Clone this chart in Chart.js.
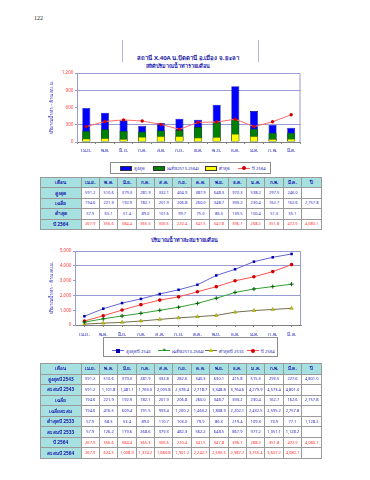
<!DOCTYPE html>
<html><head><meta charset="utf-8">
<script src="https://cdn.jsdelivr.net/npm/chart.js@4.4.1/dist/chart.umd.min.js"></script>
<style>
html,body{margin:0;padding:0;}
body{width:370px;height:480px;background:#fff;position:relative;overflow:hidden;font-family:"Noto Sans","DejaVu Sans",sans-serif;}
.abs{position:absolute;}
.pg{left:34px;top:15px;font-family:"Liberation Serif",serif;font-size:6px;color:#222;}
.title{left:0;width:376px;top:53px;text-align:center;font-size:6px;font-weight:bold;color:#1a1aa0;white-space:nowrap;}
.vline{width:1px;background:#b4b4d8;top:40px;height:22px;}
.sub{text-align:center;font-size:5.4px;font-weight:bold;color:#1a1ab0;white-space:nowrap;}
table{border-collapse:collapse;table-layout:fixed;position:absolute;left:40px;border:1px solid #555;}
td{border:0.6px solid #9a9a9a;padding:0;text-align:center;font-size:4px;color:#2b2bc8;white-space:nowrap;overflow:hidden;line-height:1;}
td.h{background:#a6e0e0;color:#1a1ab0;font-weight:bold;font-size:4.6px;}
td.lab{background:#a6e0e0;color:#1a1ab0;font-weight:bold;font-size:4.8px;}
tr.red td.num{color:#ff3030;}
.legend{border:1px solid #8c8c8c;background:#fff;}
.li{position:absolute;font-size:4.2px;color:#1a1ab0;white-space:nowrap;}
.sw{position:absolute;height:5px;width:12px;border:0.5px solid #333;box-sizing:border-box;}
.ln{position:absolute;height:1px;width:12px;}
.mk{position:absolute;}
canvas{position:absolute;}
</style></head><body>
<div class="abs pg">122</div>
<div class="abs vline" style="left:122px"></div>
<div class="abs vline" style="left:258px"></div>
<div class="abs title">สถานี X.40A น.ปัตตานี อ.เมือง จ.ยะลา</div>
<div class="abs sub" style="left:0;width:356px;top:62px;">สถิติปริมาณน้ำท่ารายเดือน</div>
<canvas id="c1" width="280" height="92" style="left:30px;top:66px;width:280px;height:92px"></canvas>
<div class="abs legend" style="left:110px;top:162px;width:159px;height:10px;">
  <div class="sw" style="left:9px;top:2.5px;background:#0000ff"></div><div class="li" style="left:23px;top:2px">สูงสุด</div>
  <div class="sw" style="left:42px;top:2.5px;background:#008000"></div><div class="li" style="left:56px;top:2px">เฉลี่ย(2513-2564)</div>
  <div class="sw" style="left:94px;top:2.5px;background:#ffff00"></div><div class="li" style="left:108px;top:2px">ต่ำสุด</div>
  <div class="ln" style="left:127px;top:4.5px;background:#ff6060"></div><div class="mk" style="left:131px;top:3px;width:4px;height:4px;background:#d00000;border-radius:50%"></div><div class="li" style="left:141px;top:2px">ปี 2564</div>
</div>
<table id="t1" style="top:177px;"></table>
<div class="abs sub" style="left:0;width:368px;top:236px;">ปริมาณน้ำท่าสะสมรายเดือน</div>
<canvas id="c2" width="280" height="96" style="left:30px;top:244px;width:280px;height:96px"></canvas>
<div class="abs legend" style="left:103px;top:337px;width:173px;height:18px;">
  <div class="ln" style="left:8px;top:12px;background:#6464d8"></div><div class="mk" style="left:12px;top:10.5px;width:4px;height:4px;background:#0000b0"></div><div class="li" style="left:22px;top:10px">สูงสุดปี 2543</div>
  <div class="ln" style="left:54px;top:12px;background:#33a033"></div><div class="mk" style="left:58.5px;top:10px;width:3px;height:5px;font-size:6px;line-height:5px;color:#006000;font-weight:bold">+</div><div class="li" style="left:68px;top:10px">เฉลี่ย(2513-2564)</div>
  <div class="ln" style="left:101px;top:12px;background:#707050"></div><div class="mk" style="left:105px;top:10px;width:0;height:0;border-left:2.5px solid transparent;border-right:2.5px solid transparent;border-bottom:4px solid #c8c800"></div><div class="li" style="left:115px;top:10px">ต่ำสุดปี 2533</div>
  <div class="ln" style="left:143px;top:12px;background:#ff5050"></div><div class="mk" style="left:147px;top:10.5px;width:4px;height:4px;background:#d00000;border-radius:50%"></div><div class="li" style="left:157px;top:10px">ปี 2564</div>
</div>
<table id="t2" style="top:363px;"></table>
<script>
// ---- data ----
const months = ['เม.ย.','พ.ค.','มิ.ย.','ก.ค.','ส.ค.','ก.ย.','ต.ค.','พ.ย.','ธ.ค.','ม.ค.','ก.พ.','มี.ค.'];
const maxMonthly  = [591.2, 510.6, 379.3, 281.9, 332.1, 404.9, 387.9, 648.3, 970.3, 538.2, 297.5, 246.0];
const meanMonthly = [194.6, 221.9, 192.9, 182.1, 201.9, 206.8, 260.0, 348.7, 393.2, 230.4, 162.7, 162.6];
const minMonthly  = [57.9, 65.1, 51.4, 89.0, 101.6, 99.7, 75.0, 86.3, 139.5, 100.4, 51.3, 55.1];
const year2564    = [267.9, 356.6, 384.4, 365.3, 306.6, 220.4, 341.5, 347.8, 396.7, 268.2, 351.8, 472.9];
const max2543     = [591.2, 510.6, 379.3, 281.9, 332.8, 282.6, 340.3, 630.1, 415.8, 515.3, 293.5, 227.6];
const max2543Cum  = [591.2, 1101.8, 1481.1, 1763.0, 2095.8, 2378.4, 2718.7, 3348.8, 3764.6, 4279.9, 4573.4, 4801.0];
const meanCum     = [194.6, 416.5, 609.4, 791.5, 993.4, 1200.2, 1460.2, 1808.9, 2202.1, 2432.5, 2595.2, 2757.8];
const min2533     = [57.9, 68.3, 53.4, 89.0, 110.7, 103.0, 79.9, 86.3, 219.4, 109.3, 73.9, 77.1];
const min2533Cum  = [57.9, 126.2, 179.6, 268.6, 379.3, 482.3, 562.2, 648.5, 867.9, 977.2, 1051.1, 1128.2];
const year2564Cum = [267.9, 624.5, 1008.9, 1374.2, 1680.8, 1901.2, 2242.7, 2590.5, 2987.2, 3255.4, 3607.2, 4080.1];
const totalMean = 2757.8, total2564 = 4080.1, total2543 = 4801.0, total2533 = 1128.2;
const y1Ticks = [0, 300, 600, 900, 1200];
const y2Ticks = [0, 1000, 2000, 3000, 4000, 5000];

const FAM = '"Noto Sans","DejaVu Sans",sans-serif';
const fmt = v => (v===''||v===null) ? '' : Number(v).toLocaleString('en-US',{minimumFractionDigits:1,maximumFractionDigits:1});

// ---- tables ----
function buildTable(id, rows, rowH){
  const t = document.getElementById(id);
  let html = '<colgroup><col style="width:40.5px">' + months.map(()=> '<col style="width:18.4px">').join('') + '<col style="width:20px"></colgroup>';
  html += '<tr style="height:'+rowH+'px"><td class="h">เดือน</td>' + months.map(m=>'<td class="h">'+m+'</td>').join('') + '<td class="h">ปี</td></tr>';
  rows.forEach(r=>{
    html += '<tr class="'+(r[3]||'')+'" style="height:'+rowH+'px"><td class="lab">'+r[0]+'</td>' + r[1].map(v=>'<td class="num">'+fmt(v)+'</td>').join('') + '<td class="num">'+fmt(r[2])+'</td></tr>';
  });
  t.innerHTML = html;
}
buildTable('t1', [
  ['สูงสุด', maxMonthly, ''],
  ['เฉลี่ย', meanMonthly, totalMean],
  ['ต่ำสุด', minMonthly, ''],
  ['ปี 2564', year2564, total2564, 'red']
], 10.4);
buildTable('t2', [
  ['สูงสุดปี 2543', max2543, total2543],
  ['สะสมปี 2543', max2543Cum, ''],
  ['เฉลี่ย', meanMonthly, totalMean],
  ['เฉลี่ยสะสม', meanCum, ''],
  ['ต่ำสุดปี 2533', min2533, total2533],
  ['สะสมปี 2533', min2533Cum, ''],
  ['ปี 2564', year2564, total2564, 'red'],
  ['สะสมปี 2564', year2564Cum, '', 'red']
], 10.55);

// ---- frame plugin ----
const frame = {id:'frame', afterDraw(chart){
  const {ctx, chartArea:a} = chart;
  ctx.save(); ctx.strokeStyle='#9a9ad4'; ctx.lineWidth=1;
  ctx.beginPath(); ctx.moveTo(a.left, a.top+0.5); ctx.lineTo(a.right-0.5, a.top+0.5); ctx.lineTo(a.right-0.5, a.bottom); ctx.stroke();
  ctx.restore();
}};

function yScale(min, max, ticks, gridVals, padTitle, width){
  return {
    min, max,
    afterBuildTicks: s => { s.ticks = ticks.map(v=>({value:v})); },
    afterFit: s => { s.width = width; },
    ticks:{color:'#ff3c3c', font:{size:4.6, family:FAM}, padding:1.5, callback:v=>Number(v).toLocaleString('en-US')},
    grid:{color: c => (c.tick && gridVals.includes(c.tick.value)) ? '#9a9ad4' : 'rgba(0,0,0,0)', tickColor:'#9a9ad4', tickLength:2, drawTicks:true},
    border:{color:'#9a9ad4'},
    title:{display:true, text:'ปริมาณน้ำท่า - ล้าน ลบ.ม.', color:'#2a2ac0', font:{size:4.6, family:FAM}, padding:{top:padTitle, bottom:0}}
  };
}
function xScale(height, pad){
  return {
    afterFit: s => { s.height = height; },
    ticks:{color:'#1a1ab0', font:{size:4.8, family:FAM}, padding:pad, maxRotation:0, autoSkip:false},
    grid:{drawOnChartArea:false, drawTicks:true, tickLength:2, color:'#808080'},
    border:{color:'#808080'}
  };
}

// ---- chart 1 ----
new Chart(document.getElementById('c1'), {
  type:'bar',
  data:{labels:months, datasets:[
    {type:'line', label:'ปี 2564', data:year2564, borderColor:'#ff6a6a', borderWidth:1, pointRadius:1.7, pointBackgroundColor:'#d00000', pointBorderColor:'#d00000', pointBorderWidth:0, tension:0, order:0},
    {label:'ต่ำสุด', data:minMonthly, backgroundColor:'#ffff00', borderColor:'#6b6b00', borderWidth:0.6, grouped:false, categoryPercentage:1, barPercentage:0.43, order:1},
    {label:'เฉลี่ย(2513-2564)', data:meanMonthly, backgroundColor:'#008000', borderColor:'#004000', borderWidth:0.6, grouped:false, categoryPercentage:1, barPercentage:0.43, order:2},
    {label:'สูงสุด', data:maxMonthly, backgroundColor:'#0000ff', borderColor:'#000070', borderWidth:0.6, grouped:false, categoryPercentage:1, barPercentage:0.43, order:3}
  ]},
  options:{animation:false, responsive:false, devicePixelRatio:1,
    layout:{padding:{left:0, right:9.5, top:7, bottom:0}},
    plugins:{legend:{display:false}, tooltip:{enabled:false}},
    scales:{x:xScale(16, 3.5), y:yScale(0, 1200, y1Ticks, [300, 900], 19, 47)}
  },
  plugins:[frame]
});

// ---- chart 2 ----
new Chart(document.getElementById('c2'), {
  type:'line',
  data:{labels:months, datasets:[
    {label:'สูงสุดปี 2543', data:max2543Cum, borderColor:'#6464d8', borderWidth:1, pointStyle:'rect', pointRadius:1.8, pointBackgroundColor:'#0000b0', pointBorderColor:'#0000b0', pointBorderWidth:0},
    {label:'เฉลี่ย(2513-2564)', data:meanCum, borderColor:'#33a033', borderWidth:1, pointStyle:'cross', pointRadius:2, pointBorderColor:'#006000', pointBorderWidth:1},
    {label:'ต่ำสุดปี 2533', data:min2533Cum, borderColor:'#707050', borderWidth:1, pointStyle:'triangle', pointRadius:2, pointBackgroundColor:'#c8c800', pointBorderColor:'#8a8a00', pointBorderWidth:0.5},
    {label:'ปี 2564', data:year2564Cum, borderColor:'#ff5050', borderWidth:1, pointStyle:'circle', pointRadius:1.8, pointBackgroundColor:'#d00000', pointBorderColor:'#d00000', pointBorderWidth:0}
  ]},
  options:{animation:false, responsive:false, devicePixelRatio:1,
    layout:{padding:{left:0, right:9, top:7, bottom:0}},
    plugins:{legend:{display:false}, tooltip:{enabled:false}},
    scales:{x:Object.assign(xScale(15, 4.5), {offset:true}), y:yScale(0, 5000, y2Ticks, [2000, 4000], 19, 45)}
  },
  plugins:[frame]
});
</script>
</body></html>
